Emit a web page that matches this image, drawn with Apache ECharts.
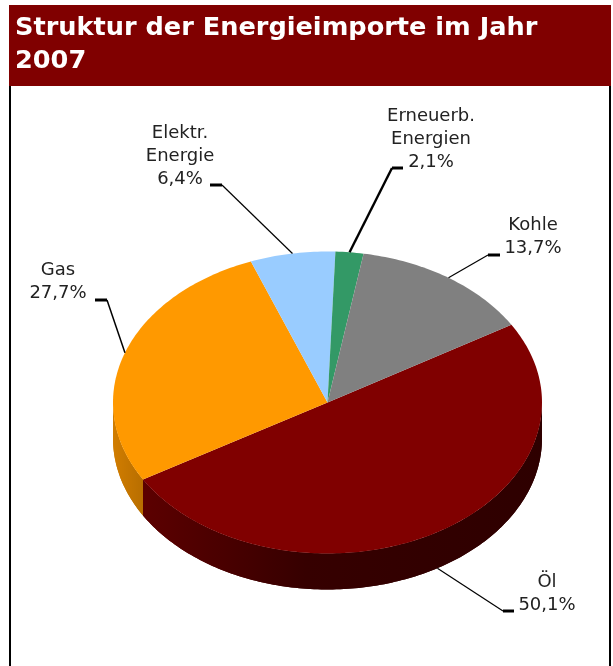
<!DOCTYPE html>
<html>
<head>
<meta charset="utf-8">
<title>Struktur der Energieimporte im Jahr 2007</title>
<style>
  html, body { margin: 0; padding: 0; background: #fff; }
  #chart { width: 613px; height: 666px; }
</style>
<script src="https://cdn.jsdelivr.net/npm/echarts@6/dist/echarts.min.js"></script>
</head>
<body>
<div id="chart"></div>
<script>
const categories = ['Öl', 'Gas', 'Elektr.\nEnergie', 'Erneuerb.\nEnergien', 'Kohle'];
const shares = [50.1, 27.7, 6.4, 2.1, 13.7];
const shareLabels = ['50,1%', '27,7%', '6,4%', '2,1%', '13,7%'];
const sliceColors = ['#800000', '#ff9900', '#99ccff', '#339966', '#808080'];

// pie geometry
const CX = 327.5, CY = 402.5, RX = 214.5, RY = 151, DEPTH = 36;
const START_DEG = 31; // slices run clockwise from here

// per slice: label centre, elbow of the leader, end of the stub, leader width
const labelPos = [[547, 594], [58, 282], [180, 156], [431, 139], [533, 237]];
const elbows = [[503, 611], [107, 300], [222, 185], [392, 168], [488, 255]];
const stubEnd = [514, 95, 210, 403, 500];
const leaderWidth = [1.2, 1.5, 1.2, 2.4, 1.2];

const total = shares.reduce((a, b) => a + b, 0);

function rimPoint(deg, drop) {
  const t = deg * Math.PI / 180;
  return [CX + RX * Math.cos(t), CY - RY * Math.sin(t) + (drop || 0)];
}

function arcPoints(from, to, drop) {
  const pts = [];
  const n = Math.max(2, Math.ceil(Math.abs(to - from)));
  for (let i = 0; i <= n; i++) pts.push(rimPoint(from + (to - from) * i / n, drop));
  return pts;
}

function shade(hex, k) {
  const v = parseInt(hex.slice(1), 16);
  const r = Math.round((v >> 16 & 255) * k), g = Math.round((v >> 8 & 255) * k), b = Math.round((v & 255) * k);
  return `rgb(${r},${g},${b})`;
}

// the wall gets darker from the left edge to the front
function wallFill(color) {
  return new echarts.graphic.LinearGradient(CX - RX, 0, CX + RX, 0, [
    { offset: 0, color: shade(color, 0.82) },
    { offset: 0.07, color: shade(color, 0.72) },
    { offset: 0.45, color: shade(color, 0.42) },
    { offset: 1, color: shade(color, 0.36) }
  ], true);
}

function renderSlice(params, api) {
  const i = params.dataIndex;
  const before = shares.slice(0, i).reduce((a, b) => a + b, 0);
  const a0 = START_DEG - before / total * 360;
  const a1 = a0 - api.value(0) / total * 360;
  const mid = (a0 + a1) / 2;
  const children = [];

  // front wall: only the part of the slice on the lower half of the ellipse
  const lo = Math.max(a1, -180), hi = Math.min(a0, 0);
  const lo2 = Math.max(a1 + 360, 180), hi2 = Math.min(a0 + 360, 360);
  [[lo, hi], [lo2, hi2]].forEach(([p, q]) => {
    if (q <= p) return;
    children.push({
      type: 'polygon',
      z2: 1,
      shape: { points: arcPoints(p, q, 0).concat(arcPoints(q, p, DEPTH)) },
      style: { fill: wallFill(sliceColors[i]) }
    });
  });

  // top face
  children.push({
    type: 'polygon',
    z2: 2,
    shape: { points: [[CX, CY]].concat(arcPoints(a0, a1, 0)) },
    style: { fill: sliceColors[i] }
  });

  // leader starts on the outer rim at the slice middle
  const onFront = Math.sin(mid * Math.PI / 180) < -0.5;
  children.push({
    type: 'polyline',
    z2: 3,
    shape: { points: [rimPoint(mid, onFront ? DEPTH : 0), elbows[i]] },
    style: { fill: null, stroke: '#000', lineWidth: leaderWidth[i] }
  });
  children.push({
    type: 'line',
    z2: 3,
    shape: { x1: elbows[i][0], y1: elbows[i][1], x2: stubEnd[i], y2: elbows[i][1] },
    style: { stroke: '#000', lineWidth: 3 }
  });

  children.push({
    type: 'text',
    z2: 4,
    style: {
      text: categories[i] + '\n' + shareLabels[i],
      x: labelPos[i][0],
      y: labelPos[i][1],
      align: 'center',
      verticalAlign: 'middle',
      fill: '#222',
      font: '18px "DejaVu Sans"',
      lineHeight: 23
    }
  });

  return { type: 'group', children };
}

const chart = echarts.init(document.getElementById('chart'), null, { renderer: 'canvas' });
chart.setOption({
  animation: false,
  backgroundColor: '#fff',
  title: {
    text: 'Struktur der Energieimporte im Jahr\n2007',
    left: 15,
    top: 12,
    padding: 0,
    textStyle: {
      color: '#fff',
      fontFamily: 'DejaVu Sans',
      fontWeight: 'bold',
      fontSize: 25.6,
      lineHeight: 33
    }
  },
  graphic: [
    { type: 'rect', z: -1, shape: { x: 9, y: 5, width: 602, height: 81 }, style: { fill: '#800000' } },
    { type: 'rect', z: -1, shape: { x: 9, y: 86, width: 2, height: 580 }, style: { fill: '#000' } },
    { type: 'rect', z: -1, shape: { x: 609, y: 86, width: 2, height: 580 }, style: { fill: '#000' } }
  ],
  series: [{
    type: 'custom',
    coordinateSystem: 'none',
    renderItem: renderSlice,
    data: shares
  }]
});
</script>
</body>
</html>
